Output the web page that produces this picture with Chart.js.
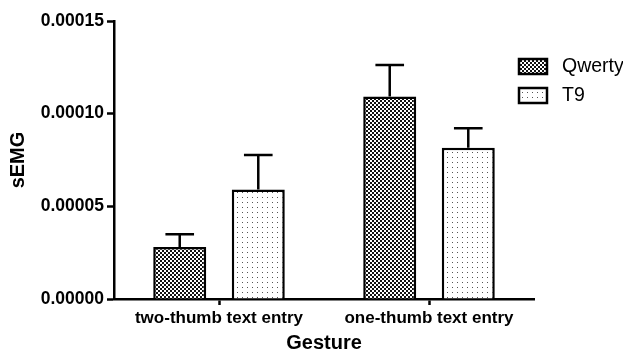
<html>
	<head>
		<meta name="viewport" content="width=device-width, initial-scale=1">
		<style>
			html, body { margin: 0; padding: 0; background: #fff; }
			#wrap { width: 623px; height: 356px; }
		</style>
	</head>
	<body>
		<div id="wrap"><canvas id="myChart" width="623" height="356"></canvas></div>
		<script src="https://cdn.jsdelivr.net/npm/chart.js@4"></script>
		<script>
			// data
			const categories = ['two-thumb text entry', 'one-thumb text entry'];
			const qwerty = [0.0000281, 0.0001092];
			const qwertyErr = [0.0000069, 0.0000170];
			const t9 = [0.0000591, 0.0000816];
			const t9Err = [0.0000186, 0.0000105];
			const yTicks = [0, 0.00005, 0.0001, 0.00015];

			function checker() {
				const c = document.createElement('canvas');
				c.width = 4; c.height = 4;
				const g = c.getContext('2d');
				g.fillStyle = '#fff'; g.fillRect(0, 0, 4, 4);
				g.fillStyle = '#111';
				g.fillRect(0, 0, 2, 2); g.fillRect(2, 2, 2, 2);
				return g.createPattern(c, 'repeat');
			}
			function dots() {
				const c = document.createElement('canvas');
				c.width = 5; c.height = 5;
				const g = c.getContext('2d');
				g.fillStyle = '#fff'; g.fillRect(0, 0, 5, 5);
				g.fillStyle = '#555';
				g.fillRect(2, 2, 1, 1);
				return g.createPattern(c, 'repeat');
			}

			const errs = [qwertyErr, t9Err];

			const errorBars = {
				id: 'errorBars',
				afterDatasetsDraw(chart) {
					const ctx = chart.ctx;
					const y = chart.scales.y;
					ctx.save();
					ctx.strokeStyle = '#000';
					ctx.lineWidth = 2.5;
					chart.data.datasets.forEach((ds, i) => {
						chart.getDatasetMeta(i).data.forEach((bar, j) => {
							const top = y.getPixelForValue(ds.data[j] + errs[i][j]);
							const half = bar.width * 0.27;
							ctx.beginPath();
							ctx.moveTo(bar.x, bar.y);
							ctx.lineTo(bar.x, top);
							ctx.moveTo(bar.x - half, top);
							ctx.lineTo(bar.x + half, top);
							ctx.stroke();
						});
					});
					ctx.restore();
				}
			};

			const legendBox = {
				id: 'legendBox',
				afterDraw(chart) {
					const ctx = chart.ctx;
					const x0 = chart.chartArea.right - 15;
					ctx.save();
					ctx.font = '19.5px "Liberation Sans", Arial, sans-serif';
					ctx.textBaseline = 'middle';
					chart.data.datasets.forEach((ds, i) => {
						const yy = 59 + i * 29;
						ctx.fillStyle = ds.backgroundColor;
						ctx.fillRect(x0, yy, 28, 15);
						ctx.strokeStyle = '#000';
						ctx.lineWidth = 2.5;
						ctx.strokeRect(x0, yy, 28, 15);
						ctx.fillStyle = '#000';
						ctx.fillText(ds.label, x0 + 43, yy + 8);
					});
					ctx.restore();
				}
			};

			const ctx = document.getElementById('myChart');
			new Chart(ctx, {
				type: 'bar',
				data: {
					labels: categories,
					datasets: [
						{ label: 'Qwerty', data: qwerty, backgroundColor: checker(), borderColor: '#000', borderWidth: 2.5 },
						{ label: 'T9', data: t9, backgroundColor: dots(), borderColor: '#000', borderWidth: 2.5 }
					]
				},
				options: {
					responsive: false,
					animation: false,
					categoryPercentage: 0.748,
					barPercentage: 0.675,
					layout: { padding: { left: 6, top: 21, right: 89, bottom: 1 } },
					plugins: {
						legend: { display: false },
						tooltip: { enabled: false }
					},
					scales: {
						x: {
							afterFit: (s) => { s.height = 56; },
							grid: { offset: false, drawOnChartArea: false, tickLength: 6, tickWidth: 2.5, tickColor: '#000' },
							border: { color: '#000', width: 2.5 },
							ticks: { color: '#000', padding: 3, font: { family: '"Liberation Sans", Arial', size: 17, weight: 'bold' } },
							title: { display: true, text: 'Gesture', color: '#000', padding: 0, font: { family: '"Liberation Sans", Arial', size: 20, weight: 'bold' } }
						},
						y: {
							min: 0,
							max: 0.00015,
							afterFit: (s) => { s.width = 108; },
							afterBuildTicks: (s) => { s.ticks = yTicks.map(v => ({ value: v })); },
							grid: { drawOnChartArea: false, tickLength: 7, tickWidth: 2.5, tickColor: '#000' },
							border: { color: '#000', width: 2.5 },
							ticks: {
								color: '#000', padding: 3,
								font: { family: '"Liberation Sans", Arial', size: 17.5, weight: 'bold' },
								callback: (v) => v.toFixed(5)
							},
							title: { display: true, text: 'sEMG', color: '#000', padding: 0, font: { family: '"Liberation Sans", Arial', size: 20, weight: 'bold' } }
						}
					}
				},
				plugins: [errorBars, legendBox]
			});
		</script>
	</body>
</html>
